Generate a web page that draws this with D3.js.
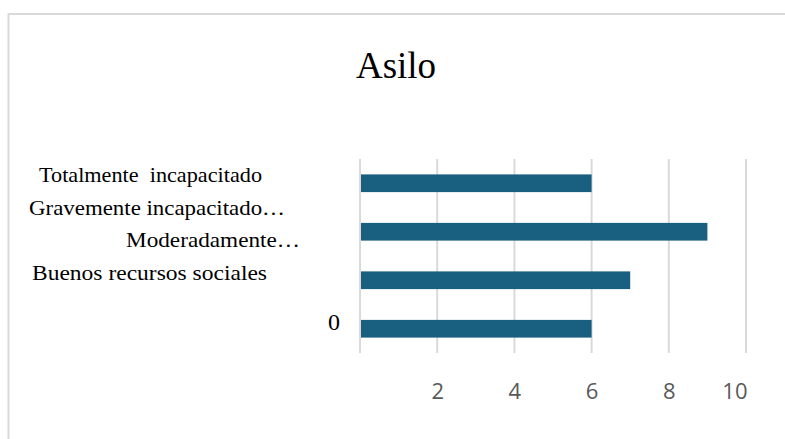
<!DOCTYPE html>
<html>
<head>
<meta charset="utf-8">
<script src="https://cdn.jsdelivr.net/npm/d3@7"></script>
<style>
  html, body { margin: 0; padding: 0; background: #ffffff; }
  svg { display: block; }
  .serif { font-family: "Liberation Serif", "Times New Roman", "DejaVu Serif", serif; }
  .sans { font-family: "Open Sans", Lato, sans-serif; }
</style>
</head>
<body>
<svg id="chart" width="785" height="439"></svg>
<script>
// ---- data ----
const title = "Asilo";
const categories = ["Totalmente  incapacitado", "Gravemente incapacitado…", "Moderadamente…", "Buenos recursos sociales"];
const values = [6, 9, 7, 6];
const extraLabel = "0";
const tickValues = [0, 2, 4, 6, 8, 10];
const tickLabels = ["", "2", "4", "6", "8", "10"];

// ---- layout ----
const W = 785, H = 439;
const plot = { left: 360, right: 746, top: 159, bottom: 353 };
const svg = d3.select("#chart");

// frame (partial border as in reference)
svg.append("line").attr("x1", 8).attr("x2", W).attr("y1", 14).attr("y2", 14)
  .attr("stroke", "#d9d9d9").attr("stroke-width", 2);
svg.append("line").attr("x1", 8.5).attr("x2", 8.5).attr("y1", 13).attr("y2", H)
  .attr("stroke", "#d9d9d9").attr("stroke-width", 2);

// title
svg.append("text").attr("class", "serif").attr("x", 396).attr("y", 78)
  .attr("text-anchor", "middle")
  .style("font-size", "37px").attr("fill", "#000")
  .text(title);

const x = d3.scaleLinear().domain([0, 10]).range([plot.left, plot.right]);
const y = d3.scaleBand().domain(categories).range([plot.top, plot.bottom])
  .paddingInner(0.635).paddingOuter(0.3175);

// gridlines
svg.append("g").selectAll("line").data(tickValues).join("line")
  .attr("x1", d => x(d)).attr("x2", d => x(d))
  .attr("y1", plot.top).attr("y2", plot.bottom)
  .attr("stroke", "#d9d9d9").attr("stroke-width", 2);

// bars
svg.append("g").selectAll("rect").data(categories).join("rect")
  .attr("x", x(0) + 1)
  .attr("y", d => y(d))
  .attr("width", (d, i) => x(values[i]) - x(0) - 1)
  .attr("height", y.bandwidth())
  .attr("fill", "#185f80");

// x axis tick labels
const xAxis = d3.axisBottom(x).tickValues(tickValues)
  .tickFormat((d, i) => tickLabels[i]).tickSize(0).tickPadding(0);
const gx = svg.append("g").attr("transform", `translate(0, ${plot.bottom})`).call(xAxis);
gx.select(".domain").remove();
gx.attr("font-family", null).attr("font-size", null);
gx.selectAll("text")
  .attr("class", "sans")
  .style("font-size", "22px")
  .attr("fill", "#595959")
  .attr("dy", null)
  .attr("y", 46)
  .attr("text-anchor", (d, i) => i === tickValues.length - 1 ? "end" : "middle")
  .attr("dx", (d, i) => i === tickValues.length - 1 ? 1 : 0);

// category labels (misaligned as in reference)
const labelLayout = [
  { x: 39, y: 182, w: 223 },
  { x: 29, y: 215, w: 256 },
  { x: 126, y: 247, w: 174 },
  { x: 32, y: 280, w: 235 }
];
svg.append("g").selectAll("text").data(categories).join("text")
  .attr("class", "serif")
  .attr("x", (d, i) => labelLayout[i].x)
  .attr("y", (d, i) => labelLayout[i].y)
  .attr("textLength", (d, i) => labelLayout[i].w)
  .attr("lengthAdjust", "spacingAndGlyphs")
  .style("font-size", "22px").attr("fill", "#000")
  .style("white-space", "pre")
  .text(d => d);

svg.append("text").attr("class", "serif").attr("x", 328).attr("y", 330)
  .style("font-size", "24px").attr("fill", "#000")
  .text(extraLabel);
</script>
</body>
</html>
